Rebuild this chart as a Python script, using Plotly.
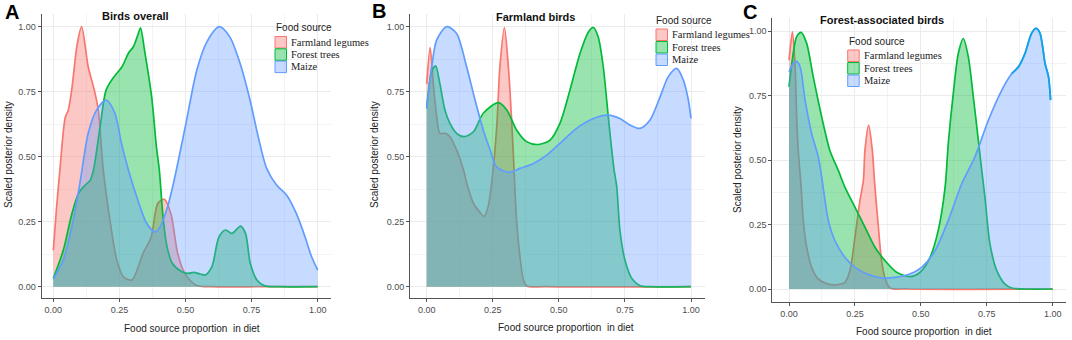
import plotly.graph_objects as go

W, H = 1072, 340

sources = ["Farmland legumes", "Forest trees", "Maize"]
line_colors = ["#F8766D", "#00BA38", "#619CFF"]
fill_colors = ["rgba(248,118,109,0.40)", "rgba(0,186,56,0.40)", "rgba(97,156,255,0.36)"]
panel_letters = ["A", "B", "C"]
panel_titles = ["Birds overall", "Farmland birds", "Forest-associated birds"]
tick_vals = [0, 0.25, 0.5, 0.75, 1.0]
tick_text = ["0.00", "0.25", "0.50", "0.75", "1.00"]
x_title = "Food source proportion \u00a0in diet"
y_title = "Scaled posterior density"
legend_title = "Food source"

# ---------- Panel A: Birds overall ----------
a_legumes_x = [0, 0.012, 0.025, 0.045, 0.057, 0.07, 0.09, 0.107, 0.132, 0.155, 0.17, 0.189, 0.214, 0.24, 0.265, 0.297,
               0.34, 0.37, 0.395, 0.42, 0.445, 0.47, 0.497, 0.54, 0.6, 0.8, 1.0]
a_legumes_y = [0.14, 0.30, 0.45, 0.65, 0.68, 0.76, 0.93, 1.0, 0.846, 0.757, 0.68, 0.449, 0.257, 0.103, 0.038, 0.026,
               0.13, 0.19, 0.32, 0.336, 0.28, 0.13, 0.052, 0.006, 0, 0, 0]
a_forest_x = [0, 0.038, 0.07, 0.096, 0.12, 0.14, 0.152, 0.177, 0.2, 0.23, 0.26, 0.284, 0.303, 0.322, 0.33, 0.345,
              0.372, 0.39, 0.401, 0.416, 0.43, 0.45, 0.485, 0.51, 0.53, 0.555, 0.575, 0.6, 0.626, 0.651, 0.676,
              0.708, 0.727, 0.745, 0.77, 0.8, 0.85, 1.0]
a_forest_y = [0.032, 0.141, 0.28, 0.36, 0.39, 0.41, 0.449, 0.615, 0.757, 0.808, 0.846, 0.898, 0.923, 0.975, 0.996, 0.91,
              0.73, 0.538, 0.449, 0.257, 0.154, 0.09, 0.058, 0.051, 0.055, 0.049, 0.045, 0.077, 0.19, 0.218, 0.205,
              0.233, 0.205, 0.09, 0.026, 0.003, 0, 0]
a_maize_x = [0, 0.038, 0.07, 0.101, 0.132, 0.164, 0.2, 0.233, 0.258, 0.284, 0.303, 0.328, 0.353, 0.385, 0.404, 0.43,
             0.455, 0.48, 0.504, 0.542, 0.58, 0.628, 0.668, 0.706, 0.744, 0.775, 0.807, 0.845, 0.882, 0.92, 0.952,
             0.977, 1.0]
a_maize_y = [0.03, 0.103, 0.23, 0.40, 0.59, 0.68, 0.718, 0.667, 0.55, 0.449, 0.385, 0.308, 0.244, 0.21, 0.23, 0.30,
             0.40, 0.52, 0.64, 0.83, 0.94, 1.0, 0.96, 0.86, 0.718, 0.577, 0.455, 0.39, 0.353, 0.28, 0.192,
             0.115, 0.064]

# ---------- Panel B: Farmland birds ----------
b_legumes_x = [0, 0.013, 0.025, 0.038, 0.05, 0.07, 0.088, 0.113, 0.139, 0.151, 0.177, 0.2, 0.217, 0.233, 0.246,
               0.265, 0.277, 0.294, 0.309, 0.322, 0.334, 0.34, 0.353, 0.366, 0.378, 0.45, 1.0]
b_legumes_y = [0.78, 0.92, 0.78, 0.654, 0.59, 0.59, 0.577, 0.526, 0.45, 0.40, 0.32, 0.288, 0.27, 0.31, 0.40,
               0.615, 0.846, 0.997, 0.846, 0.628, 0.372, 0.256, 0.115, 0.026, 0.003, 0, 0]
b_forest_x = [0, 0.019, 0.034, 0.05, 0.069, 0.088, 0.113, 0.142, 0.177, 0.214, 0.271, 0.303, 0.34, 0.378, 0.422,
              0.467, 0.504, 0.542, 0.58, 0.612, 0.631, 0.649, 0.668, 0.687, 0.7, 0.709, 0.719, 0.731, 0.75, 0.776,
              0.807, 0.85, 1.0]
b_forest_y = [0.686, 0.827, 0.849, 0.78, 0.68, 0.628, 0.59, 0.577, 0.596, 0.667, 0.708, 0.68, 0.603, 0.558, 0.547,
              0.564, 0.628, 0.756, 0.897, 0.98, 0.997, 0.96, 0.846, 0.654, 0.526, 0.449, 0.385, 0.218, 0.103, 0.032,
              0.004, 0, 0]
b_maize_x = [0, 0.019, 0.038, 0.076, 0.113, 0.151, 0.183, 0.214, 0.24, 0.265, 0.315, 0.353, 0.404, 0.454, 0.504,
             0.567, 0.631, 0.687, 0.731, 0.769, 0.807, 0.845, 0.883, 0.914, 0.946, 0.971, 0.99, 1.0]
b_maize_y = [0.686, 0.846, 0.949, 1.0, 0.974, 0.846, 0.718, 0.603, 0.526, 0.46, 0.44, 0.455, 0.474, 0.506, 0.551,
             0.609, 0.647, 0.66, 0.647, 0.622, 0.609, 0.641, 0.73, 0.808, 0.84, 0.795, 0.718, 0.647]

# ---------- Panel C: Forest-associated birds ----------
c_legumes_x = [0, 0.013, 0.023, 0.029, 0.035, 0.046, 0.054, 0.067, 0.086, 0.111, 0.149, 0.187, 0.212, 0.231, 0.25,
               0.269, 0.282, 0.288, 0.302, 0.316, 0.324, 0.339, 0.351, 0.367, 0.383, 0.45, 1.0]
c_legumes_y = [0.887, 0.997, 0.86, 0.667, 0.537, 0.395, 0.266, 0.162, 0.084, 0.039, 0.019, 0.017, 0.026, 0.071, 0.2,
               0.343, 0.42, 0.537, 0.635, 0.537, 0.42, 0.24, 0.11, 0.032, 0.004, 0, 0]
c_forest_x = [0, 0.016, 0.029, 0.046, 0.067, 0.092, 0.124, 0.155, 0.187, 0.212, 0.25, 0.288, 0.326, 0.364, 0.408,
              0.459, 0.497, 0.535, 0.566, 0.592, 0.604, 0.623, 0.642, 0.661, 0.68, 0.699, 0.718, 0.731, 0.743, 0.762,
              0.788, 0.819, 0.845, 0.9, 1.0]
c_forest_y = [0.784, 0.913, 0.978, 0.995, 0.952, 0.822, 0.667, 0.537, 0.46, 0.395, 0.317, 0.24, 0.162, 0.11, 0.065,
              0.048, 0.065, 0.123, 0.227, 0.395, 0.563, 0.758, 0.913, 0.971, 0.9, 0.745, 0.576, 0.46, 0.356, 0.175,
              0.071, 0.019, 0.004, 0, 0]
c_maize_x = [0, 0.016, 0.027, 0.042, 0.061, 0.086, 0.111, 0.124, 0.149, 0.174, 0.212, 0.25, 0.301, 0.351, 0.402,
             0.453, 0.503, 0.554, 0.604, 0.655, 0.705, 0.756, 0.807, 0.845, 0.87, 0.895, 0.92, 0.937, 0.952, 0.971,
             0.984, 0.992]
c_maize_y = [0.842, 0.874, 0.883, 0.861, 0.732, 0.602, 0.512, 0.434, 0.266, 0.188, 0.123, 0.084, 0.056, 0.043, 0.045,
             0.056, 0.084, 0.149, 0.266, 0.408, 0.512, 0.654, 0.771, 0.835, 0.861, 0.913, 0.991, 1.01, 0.991, 0.874,
             0.823, 0.732]

panel_data = [
    [(a_legumes_x, a_legumes_y), (a_forest_x, a_forest_y), (a_maize_x, a_maize_y)],
    [(b_legumes_x, b_legumes_y), (b_forest_x, b_forest_y), (b_maize_x, b_maize_y)],
    [(c_legumes_x, c_legumes_y), (c_forest_x, c_forest_y), (c_maize_x, c_maize_y)],
]

# ---------- layout geometry (pixels) ----------
geom = [
    dict(x0=53.3, x1=317.7, y0=286.7, y1=26.7, left=41.5, right=331, bottom=298.3, top=14),
    dict(x0=426.7, x1=691.0, y0=286.7, y1=26.7, left=410, right=705, bottom=297.7, top=14),
    dict(x0=789.0, x1=1052.7, y0=289.0, y1=31.0, left=772.3, right=1066, bottom=301.7, top=18),
]
letter_pos = [(12, 12), (379, 10.5), (750, 12)]
title_pos = [(135, 15.7), (535, 17.3), (881.7, 20)]
xtitle_pos = [(191.7, 328.5), (565.7, 327.5), (924, 331.0)]
ytitle_pos = [(9, 155), (375, 155), (737, 160)]
legend_geom = [
    dict(tx=275, ty=27.7, kx=275, rows=[36.5, 48.8, 61.1], textx=290),
    dict(tx=655, ty=20.7, kx=656, rows=[29.0, 41.5, 54.0], textx=670.7),
    dict(tx=847.7, ty=41.7, kx=847.7, rows=[50.0, 62.5, 75.0], textx=862.7),
]
KEY = 11.5


def px(x):
    return x / W


def py(y):
    return 1 - y / H


fig = go.Figure()
annotations = []
shapes = []

for p in range(3):
    g = geom[p]
    sx = "" if p == 0 else str(p + 1)
    xa, ya = "x" + sx, "y" + sx
    for s in range(3):
        xs, ys = panel_data[p][s]
        fig.add_trace(go.Scatter(
            x=xs, y=ys, xaxis=xa, yaxis=ya, mode="lines",
            line=dict(color=line_colors[s], width=1.7, shape="spline", smoothing=0.8),
            fill="tozeroy", fillcolor=fill_colors[s], name=sources[s], showlegend=False,
            hoverinfo="skip"))
    if p == 2:
        # darker outline on the right-hand maize peak in panel C
        k = c_maize_x.index(0.845)
        fig.add_trace(go.Scatter(
            x=c_maize_x[k:], y=c_maize_y[k:], xaxis=xa, yaxis=ya, mode="lines",
            line=dict(color="#10A3E6", width=1.8, shape="spline", smoothing=0.8),
            showlegend=False, hoverinfo="skip"))

    sxr = (g["x1"] - g["x0"])
    syr = (g["y0"] - g["y1"])
    xrange = [(g["left"] - g["x0"]) / sxr, (g["right"] - g["x0"]) / sxr]
    yrange = [(g["y0"] - g["bottom"]) / syr, (g["y0"] - g["top"]) / syr]
    axis_common = dict(
        showline=True, linecolor="#555555", linewidth=1, ticks="outside", ticklen=3,
        tickcolor="#555555", tickfont=dict(family="Liberation Sans, Arial", size=9, color="#4D4D4D"),
        showgrid=True, gridcolor="#EBEBEB", gridwidth=1, zeroline=False,
        tickvals=tick_vals, ticktext=tick_text,
        minor=dict(tickvals=[0.125, 0.375, 0.625, 0.875], showgrid=True, gridcolor="#F3F3F3",
                   gridwidth=0.6, ticks=""),
        fixedrange=True,
    )
    fig.layout["xaxis" + sx] = dict(
        domain=[px(g["left"]), px(g["right"])], range=xrange, anchor=ya, **axis_common)
    fig.layout["yaxis" + sx] = dict(
        domain=[py(g["bottom"]), py(g["top"])], range=yrange, anchor=xa, **axis_common)

    # panel letter
    lx, ly = letter_pos[p]
    annotations.append(dict(text="<b>%s</b>" % panel_letters[p], x=px(lx), y=py(ly), xref="paper",
                            yref="paper", showarrow=False, xanchor="center", yanchor="middle",
                            font=dict(family="Liberation Sans, Arial", size=20, color="#000000")))
    # title
    tx, ty = title_pos[p]
    annotations.append(dict(text="<b>%s</b>" % panel_titles[p], x=px(tx), y=py(ty), xref="paper",
                            yref="paper", showarrow=False, xanchor="center", yanchor="middle",
                            font=dict(family="Liberation Sans, Arial", size=11, color="#111111")))
    # axis titles
    xx, xy = xtitle_pos[p]
    annotations.append(dict(text=x_title, x=px(xx), y=py(xy), xref="paper", yref="paper",
                            showarrow=False, xanchor="center", yanchor="middle",
                            font=dict(family="Liberation Sans, Arial", size=10, color="#222222")))
    yx, yy = ytitle_pos[p]
    annotations.append(dict(text=y_title, x=px(yx), y=py(yy), xref="paper", yref="paper",
                            showarrow=False, xanchor="center", yanchor="middle", textangle=-90,
                            font=dict(family="Liberation Sans, Arial", size=10, color="#222222")))
    # legend
    lg = legend_geom[p]
    annotations.append(dict(text=legend_title, x=px(lg["tx"]), y=py(lg["ty"]), xref="paper", yref="paper",
                            showarrow=False, xanchor="left", yanchor="middle", borderpad=0,
                            font=dict(family="Liberation Sans, Arial", size=10, color="#222222")))
    for s in range(3):
        top = lg["rows"][s]
        shapes.append(dict(type="rect", xref="paper", yref="paper",
                           x0=px(lg["kx"]), x1=px(lg["kx"] + KEY), y0=py(top + KEY), y1=py(top),
                           fillcolor=fill_colors[s], line=dict(color=line_colors[s], width=1)))
        annotations.append(dict(text=sources[s], x=px(lg["textx"]), y=py(top + KEY / 2), xref="paper",
                                yref="paper", showarrow=False, xanchor="left", yanchor="middle",
                                borderpad=0,
                                font=dict(family="Liberation Serif, Times New Roman", size=10.5,
                                          color="#222222")))

fig.update_layout(
    width=W, height=H, margin=dict(l=0, r=0, t=0, b=0),
    paper_bgcolor="white", plot_bgcolor="white", showlegend=False,
    annotations=annotations, shapes=shapes,
)

fig.write_html("out.html", config={"displayModeBar": False},
               post_script="document.body.style.margin='0px';document.body.style.overflow='hidden';")
